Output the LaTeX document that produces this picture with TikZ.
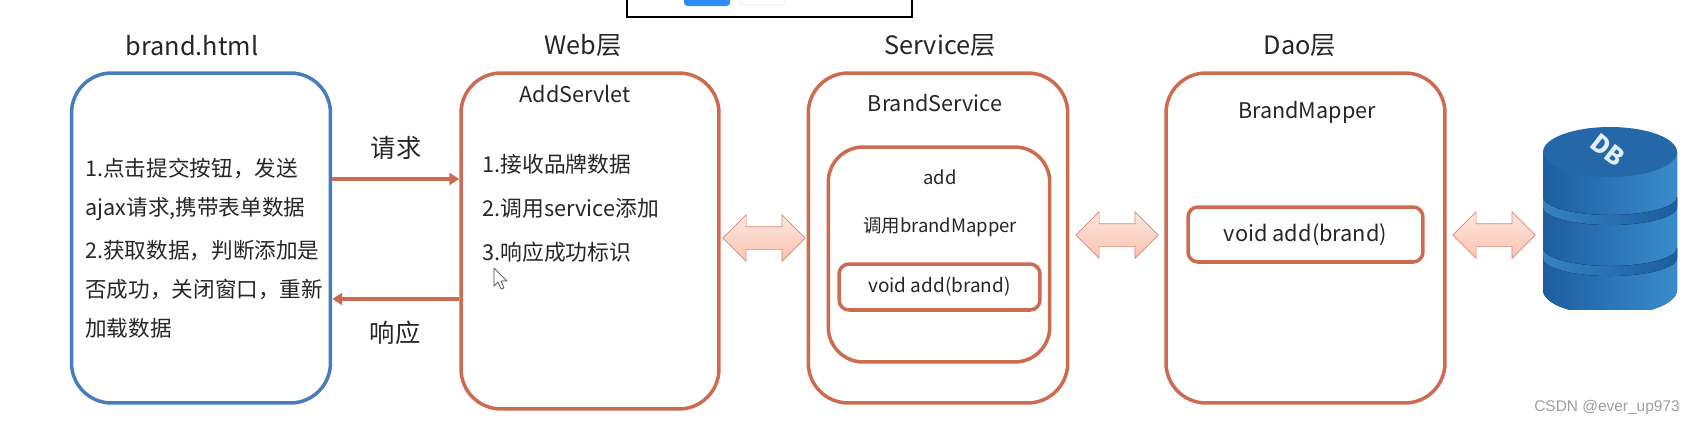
\documentclass[tikz,border=0pt]{standalone}
\usepackage{fontspec}
\setmainfont{Noto Sans CJK SC}
\newfontfamily\markfont{Liberation Sans}
\definecolor{layerred}{RGB}{205, 107, 80}
\definecolor{pageblue}{RGB}{72, 124, 190}
\definecolor{buttonblue}{RGB}{45, 140, 250}
\definecolor{arrowtop}{RGB}{253, 230, 222}
\definecolor{arrowbottom}{RGB}{250, 196, 178}
\definecolor{arrowline}{RGB}{217, 132, 110}
\definecolor{dbdark}{RGB}{29, 93, 160}
\definecolor{dblight}{RGB}{58, 140, 203}
\definecolor{dbtop}{RGB}{37, 104, 170}
\usetikzlibrary{shapes.arrows, arrows.meta, positioning}
\tikzset{
  layerbox/.style={draw=layerred, line width=2pt, rounded corners=0.8cm, inner sep=0pt},
  methodbox/.style={draw=layerred, line width=2pt, rounded corners=0.2cm, inner sep=0pt},
  titletext/.style={font=\fontsize{14.4}{17}\selectfont, text=black!85},
  classtext/.style={font=\fontsize{12.3}{15}\selectfont, text=black!85},
  steptext/.style={align=left, anchor=west, inner sep=0pt, text=black!85},
  callarrow/.style={-{Triangle[length=0.2cm,width=0.24cm]}, layerred, line width=2pt},
  swaparrow/.style={shape=double arrow, draw=arrowline, top color=arrowtop, bottom color=arrowbottom,
    minimum height=1.65cm, double arrow head extend=0.24cm, inner xsep=0pt, inner ysep=0.22cm}
}

\begin{document}
\begin{tikzpicture}[x=0.02cm, y=-0.02cm]
  \useasboundingbox (0,0) rectangle (1695,424);

  % Top of the window
  \draw[black, line width=0.8pt] (627,-5) -- (627,17) -- (912,17) -- (912,-5);
  \begin{scope}
    \clip (0,0) rectangle (1695,424);
    \fill[buttonblue, rounded corners=2pt] (684,-8) rectangle (730,6);
    \draw[black!8, rounded corners=2pt] (740,-8) rectangle (785,5);
  \end{scope}

  % Layer titles
  \node[titletext] (brandtitle) at (192, 46) {brand.html};
  \node[titletext] (webtitle) at (583, 46) {Web层};
  \node[titletext] (servicetitle) at (940, 46) {Service层};
  \node[titletext] (daotitle) at (1300, 46) {Dao层};

  % Page and web layer
  \node[layerbox, draw=pageblue, minimum width=5.18cm, minimum height=6.6cm] (brandbox) at (201, 238) {};
  \node[layerbox, minimum width=5.16cm, minimum height=6.72cm] (webbox) at (590, 241) {};
  \node[classtext] (addservlet) at (575, 94) {AddServlet};

  \node[steptext, font=\fontsize{12.3}{22}\selectfont] (brandsteps) at (85, 248) {
    1.点击提交按钮，发送\\
    ajax请求,携带表单数据\\[2.8pt]
    2.获取数据，判断添加是\\
    否成功，关闭窗口，重新\\
    加载数据
  };
  \node[steptext, font=\fontsize{12.4}{25}\selectfont] (websteps) at (482, 208) {
    1.接收品牌数据\\
    2.调用service添加\\
    3.响应成功标识
  };

  % Request and response
  \coordinate (requestline) at (396, 179);
  \coordinate (responseline) at (396, 299);
  \draw[callarrow] (brandbox.east |- requestline) -- (webbox.west |- requestline);
  \draw[callarrow] (webbox.west |- responseline) -- (brandbox.east |- responseline);
  \node[titletext] (requesttext) at (396, 148) {请求};
  \node[titletext] (responsetext) at (395, 333) {响应};

  % Mouse pointer
  \draw[black!70, fill=white, line width=0.4pt, line join=round] (494,268) -- (494,286) -- (498,282) -- (501,289) -- (504,288) -- (501,281) -- (507,281) -- cycle;

  % Service layer
  \node[layerbox, minimum width=5.19cm, minimum height=6.6cm] (servicebox) at (938, 238) {};
  \node[classtext] (brandservice) at (935, 103) {BrandService};
  \node[layerbox, rounded corners=0.7cm, minimum width=4.43cm, minimum height=4.3cm] (addbox) at (939, 254.5) {};
  \node[font=\fontsize{10.5}{13}\selectfont, text=black!85] (addtext) at (940, 177) {add};
  \node[font=\fontsize{10.5}{13}\selectfont, text=black!85] (calltext) at (940, 227) {调用brandMapper};
  \node[methodbox, minimum width=4.02cm, minimum height=0.92cm, font=\fontsize{10.8}{14}\selectfont, text=black!85] (servicevoid) at (939.5, 287) {void add(brand)};

  % Dao layer
  \node[layerbox, minimum width=5.58cm, minimum height=6.6cm] (daobox) at (1305.5, 238) {};
  \node[classtext] (brandmapper) at (1307, 112) {BrandMapper};
  \node[methodbox, minimum width=4.7cm, minimum height=1.1cm, font=\fontsize{12.4}{16}\selectfont, text=black!85] (daovoid) at (1305.5, 234.5) {void add(brand)};

  % Block arrows between layers
  \node[swaparrow] (webswap) at (764, 238) {};
  \node[swaparrow] (serviceswap) at (1117, 235) {};
  \node[swaparrow] (dbswap) at (1494, 235) {};

  % Database
  \begin{scope}
    \clip (1543,120) rectangle (1677,309);
    \fill[left color=dbdark, right color=dblight] (1543,152) -- (1543,290) arc[start angle=180, end angle=0, x radius=67, y radius=25] -- (1677,152) -- cycle;
    \foreach \bandy in {197, 248} {
      \fill[left color=dblight!80!dbdark, right color=dbdark] (1543,\bandy) arc[start angle=180, end angle=0, x radius=67, y radius=18]
        -- ++(0,10) arc[start angle=0, end angle=180, x radius=67, y radius=18] -- cycle;
    }
    \fill[dbtop] (1610,152) ellipse[x radius=67, y radius=25];
  \end{scope}
  \node[rotate=-38, text=white!85!dblight, font=\fontsize{14}{16}\selectfont\bfseries, inner sep=0pt] (dbtext) at (1608, 150) {DB};

  \node[font=\markfont\fontsize{8.8}{12}\selectfont, text=black!38, inner sep=0pt] (marktext) at (1607, 407) {CSDN @ever\_up973};
\end{tikzpicture}
\end{document}
